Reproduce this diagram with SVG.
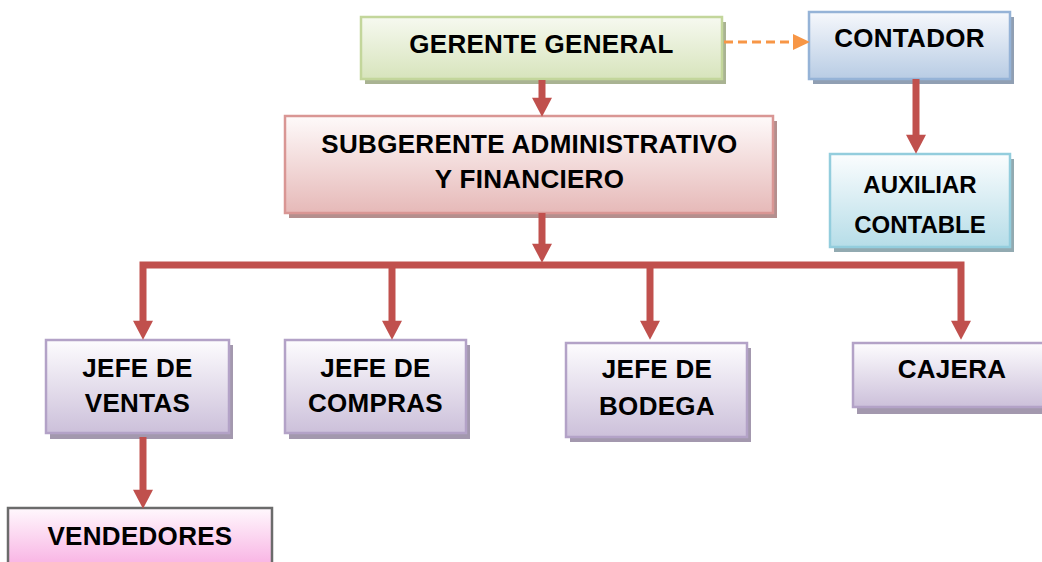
<svg xmlns="http://www.w3.org/2000/svg" width="1042" height="562" viewBox="0 0 1042 562">
<defs>
<linearGradient id="gGreen" x1="0" y1="0" x2="0" y2="1"><stop offset="0" stop-color="#f6f9f0"/><stop offset="1" stop-color="#d7e4bc"/></linearGradient>
<linearGradient id="gBlue" x1="0" y1="0" x2="0" y2="1"><stop offset="0" stop-color="#f6f8fc"/><stop offset="1" stop-color="#b8cce4"/></linearGradient>
<linearGradient id="gRed" x1="0" y1="0" x2="0" y2="1"><stop offset="0" stop-color="#fefafa"/><stop offset="1" stop-color="#e6b9b8"/></linearGradient>
<linearGradient id="gAqua" x1="0" y1="0" x2="0" y2="1"><stop offset="0" stop-color="#fbfdfe"/><stop offset="1" stop-color="#b6dde8"/></linearGradient>
<linearGradient id="gPurple" x1="0" y1="0" x2="0" y2="1"><stop offset="0" stop-color="#fdfcfe"/><stop offset="1" stop-color="#ccc0da"/></linearGradient>
<linearGradient id="gPink" x1="0" y1="0" x2="0" y2="1"><stop offset="0" stop-color="#fff8fd"/><stop offset="1" stop-color="#f7a4de"/></linearGradient>
<marker id="arrRed" markerUnits="userSpaceOnUse" markerWidth="20" markerHeight="20" viewBox="0 0 18 19" refX="6" refY="9.5" orient="auto">
<path d="M0,0 L18,9.5 L0,19 z" fill="#c0504d"/>
</marker>
<marker id="arrOrange" markerUnits="userSpaceOnUse" markerWidth="17" markerHeight="16" viewBox="0 0 16 15" refX="2" refY="7.5" orient="auto">
<path d="M0,0 L16,7.5 L0,15 z" fill="#f79646"/>
</marker>
</defs>
<style>
.lbl{font-family:"Liberation Sans",Arial,sans-serif;font-weight:bold;font-size:26px;letter-spacing:0.3px;fill:#000;text-anchor:middle}
.small{font-size:24px;letter-spacing:0}
.box{stroke-width:2.5}
.conn{fill:none;stroke:#c0504d;stroke-width:7;marker-end:url(#arrRed)}
.dash{fill:none;stroke:#f79646;stroke-width:3;stroke-dasharray:9 5;marker-end:url(#arrOrange)}
</style>
<rect width="1042" height="562" fill="#ffffff"/>

<g id="gerente-general">
<rect x="365" y="22" width="361" height="62" fill="#a9b392"/>
<rect class="box" x="361" y="17" width="361" height="62" fill="url(#gGreen)" stroke="#c3d69b"/>
<text class="lbl" x="541.5" y="53">GERENTE GENERAL</text>
</g>

<g id="contador">
<rect x="813" y="17" width="201" height="67" fill="#909fb3"/>
<rect class="box" x="809" y="12" width="201" height="67" fill="url(#gBlue)" stroke="#95b3d7"/>
<text class="lbl" x="909.5" y="47">CONTADOR</text>
</g>

<g id="subgerente">
<rect x="289" y="121" width="488" height="97" fill="#b48f8e"/>
<rect class="box" x="285" y="116" width="488" height="97" fill="url(#gRed)" stroke="#d99694"/>
<text class="lbl" x="529.5" y="153">SUBGERENTE ADMINISTRATIVO</text>
<text class="lbl" x="529.5" y="188">Y FINANCIERO</text>
</g>

<g id="auxiliar-contable">
<rect x="834" y="159" width="180" height="93" fill="#92aab1"/>
<rect class="box" x="830" y="154" width="180" height="93" fill="url(#gAqua)" stroke="#93cddd"/>
<text class="lbl small" x="920" y="193">AUXILIAR</text>
<text class="lbl small" x="920" y="233">CONTABLE</text>
</g>

<g id="jefe-ventas">
<rect x="50" y="345" width="183" height="94" fill="#a398ae"/>
<rect class="box" x="46" y="340" width="183" height="93" fill="url(#gPurple)" stroke="#b3a2c7"/>
<text class="lbl" x="137.5" y="377">JEFE DE</text>
<text class="lbl" x="137.5" y="412">VENTAS</text>
</g>

<g id="jefe-compras">
<rect x="289" y="345" width="181" height="94" fill="#a398ae"/>
<rect class="box" x="285" y="340" width="181" height="93" fill="url(#gPurple)" stroke="#b3a2c7"/>
<text class="lbl" x="375.5" y="377">JEFE DE</text>
<text class="lbl" x="375.5" y="412">COMPRAS</text>
</g>

<g id="jefe-bodega">
<rect x="570" y="348" width="181" height="94" fill="#a398ae"/>
<rect class="box" x="566" y="343" width="181" height="94" fill="url(#gPurple)" stroke="#b3a2c7"/>
<text class="lbl" x="657" y="378">JEFE DE</text>
<text class="lbl" x="657" y="415">BODEGA</text>
</g>

<g id="cajera">
<rect x="857" y="348" width="196" height="66" fill="#a398ae"/>
<rect class="box" x="853" y="343" width="196" height="64" fill="url(#gPurple)" stroke="#b3a2c7"/>
<text class="lbl" x="952" y="378">CAJERA</text>
</g>

<g id="vendedores">
<rect class="box" x="8" y="508" width="264" height="70" fill="url(#gPink)" stroke="#6b6b6b"/>
<text class="lbl" x="140" y="545">VENDEDORES</text>
</g>

<g id="connectors">
<path class="dash" d="M724,42 H795"/>
<path class="conn" d="M542,80 V104"/>
<path class="conn" d="M916,79 V141"/>
<path class="conn" d="M542,213 V250"/>
<path class="conn" d="M542,265 H143 V327"/>
<path class="conn" d="M542,265 H961 V327"/>
<path class="conn" d="M392,265 V327"/>
<path class="conn" d="M650,265 V327"/>
<path class="conn" d="M143,437 V496"/>
</g>
</svg>
